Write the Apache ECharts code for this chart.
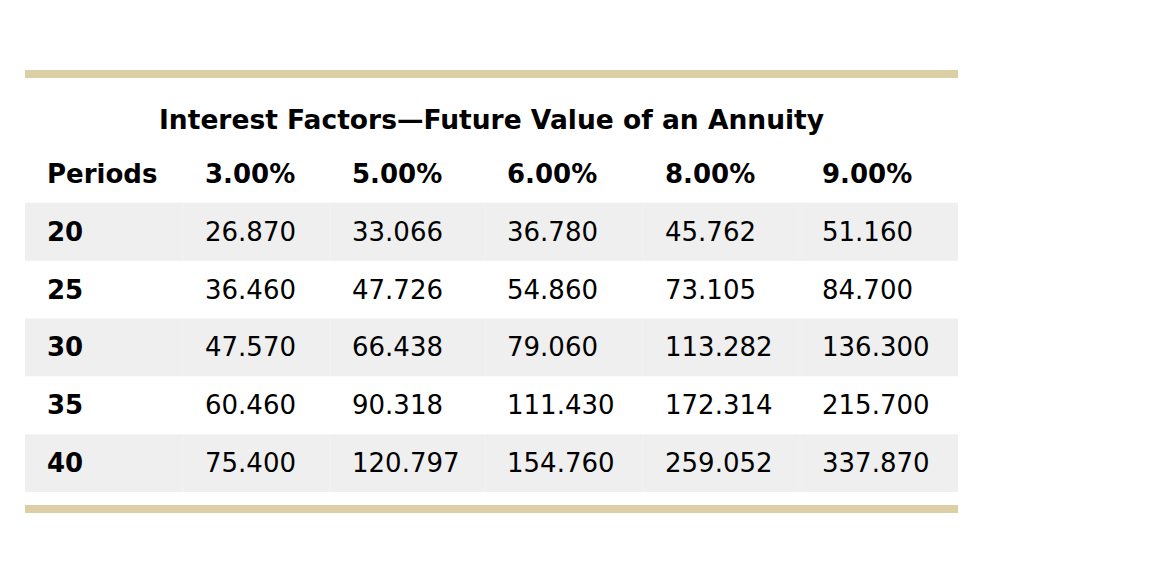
<!DOCTYPE html>
<html><head><meta charset="utf-8">
<script src="https://cdn.jsdelivr.net/npm/echarts@6/dist/echarts.min.js"></script>
<style>html,body{margin:0;padding:0;background:#fff}#c{width:1176px;height:576px}</style>
</head><body><div id="c"></div>
<script>
// ---- data ----
const titleText = 'Interest Factors\u2014Future Value of an Annuity';
const headerLabel = 'Periods';
const rates = ['3.00%', '5.00%', '6.00%', '8.00%', '9.00%'];
const periods = ['20', '25', '30', '35', '40'];
const rate3 = [26.870, 36.460, 47.570, 60.460, 75.400];
const rate5 = [33.066, 47.726, 66.438, 90.318, 120.797];
const rate6 = [36.780, 54.860, 79.060, 111.430, 154.760];
const rate8 = [45.762, 73.105, 113.282, 172.314, 259.052];
const rate9 = [51.160, 84.700, 136.300, 215.700, 337.870];
const columns = [rate3, rate5, rate6, rate8, rate9];

// ---- layout (not data) ----
const colEdges = [0, 158, 305, 460, 618, 775, 933];
const rowCats = ['hdr'].concat(periods);
const FONT = '"DejaVu Sans", Verdana, sans-serif';

const items = [];
items.push([0, 'hdr', headerLabel, 1]);
rates.forEach((r, i) => items.push([i + 1, 'hdr', r, 1]));
periods.forEach((p, ri) => {
  items.push([0, p, p, 1]);
  columns.forEach((col, ci) => items.push([ci + 1, p, col[ri].toFixed(3), 0]));
});

function draw() {
  const chart = echarts.init(document.getElementById('c'), null, {renderer: 'svg'});
  chart.setOption({
    animation: false,
    backgroundColor: '#fff',
    textStyle: {fontFamily: FONT},
    grid: {left: 25, width: 933, top: 145, height: 347},
    xAxis: {type: 'value', min: 0, max: 933, show: false},
    yAxis: {type: 'category', data: rowCats, inverse: true, show: false},
    graphic: [
      {type: 'rect', shape: {x: 25, y: 70, width: 933, height: 8}, style: {fill: '#dccfa6'}},
      {type: 'rect', shape: {x: 25, y: 505, width: 933, height: 8}, style: {fill: '#dccfa6'}},
      {type: 'text', x: 491.5, y: 119, style: {text: titleText, align: 'center', verticalAlign: 'middle',
        fontSize: 26.5, fontWeight: 'bold', fontFamily: FONT, fill: '#000'}}
    ],
    series: [{
      type: 'custom',
      clip: false,
      encode: {x: 0, y: 1},
      data: items,
      renderItem: function (params, api) {
        const col = api.value(0);
        const row = api.value(1);
        const text = items[params.dataIndex][2];
        const bold = items[params.dataIndex][3];
        const x0 = api.coord([colEdges[col], row])[0];
        const x1 = api.coord([colEdges[col + 1], row])[0];
        const yc = api.coord([0, row])[1];
        const h = api.size([0, 1])[1];
        const children = [];
        if (row === 1 || row === 3 || row === 5) {
          children.push({type: 'rect', shape: {x: x0, y: yc - h / 2, width: x1 - x0, height: h}, style: {fill: '#efefef'}});
          if (col > 0) {
            children.push({type: 'rect', shape: {x: x0 - 0.5, y: yc - h / 2, width: 1, height: h}, style: {fill: '#f4f4f4'}});
          }
        }
        children.push({type: 'text', x: x0 + 22, y: yc, style: {text: text, align: 'left', verticalAlign: 'middle',
          fontSize: 26, fontWeight: bold ? 'bold' : 'normal', fontFamily: FONT, fill: '#000'}});
        return {type: 'group', children: children};
      }
    }]
  });
}
if (document.fonts && document.fonts.load) {
  Promise.all([
    document.fonts.load('26px "DejaVu Sans"'),
    document.fonts.load('bold 26px "DejaVu Sans"')
  ]).then(draw, draw);
} else { draw(); }
</script></body></html>
